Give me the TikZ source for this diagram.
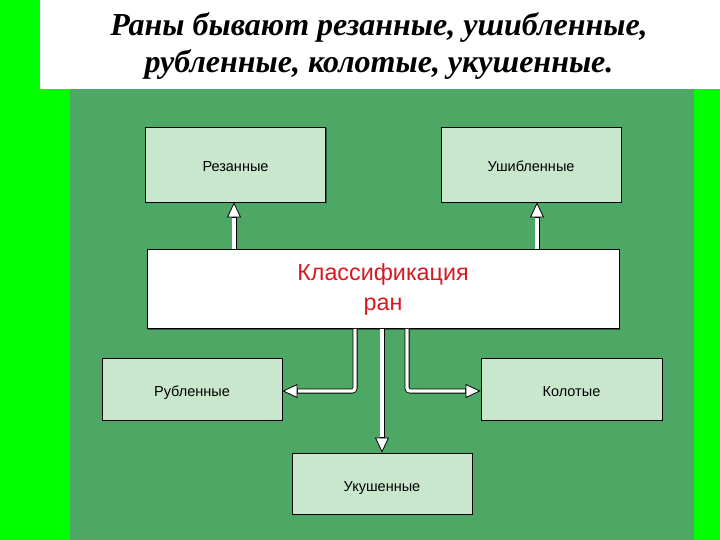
\documentclass[tikz,border=0pt]{standalone}
\usepackage{fontspec}
\setmainfont{Liberation Serif}
\newfontfamily\boxfont{Liberation Sans}
\usetikzlibrary{arrows.meta}
\usetikzlibrary{shadows}
\definecolor{limegreen}{RGB}{0,255,0}
\definecolor{panelgreen}{RGB}{77,167,101}
\definecolor{boxgreen}{RGB}{201,231,204}
\definecolor{classred}{RGB}{214,26,34}
\tikzstyle{woundbox}=[draw=black, line width=0.8pt, fill=boxgreen, inner sep=0,
                      text height=15pt, text depth=0pt,
                      font=\boxfont\fontsize{14.5}{16}\selectfont,
                      drop shadow={shadow xshift=1.2pt, shadow yshift=-1.2pt, fill=black, opacity=0.45}]
\tikzstyle{topbox}=[woundbox, minimum width=180pt, minimum height=75pt]
\tikzstyle{lowbox}=[woundbox, minimum width=180pt, minimum height=62pt]
\tikzstyle{classbox}=[woundbox, fill=white, text=classred, align=center,
                      text height=, text depth=,
                      minimum width=472pt, minimum height=79pt,
                      font=\boxfont\fontsize{23.3}{30}\selectfont]
% Black outer stroke with the tip, white core laid on top of it.
\tikzstyle{wound}=[draw=black, line width=5pt, rounded corners=3pt,
                   -{Triangle[length=15pt, width=14pt, line width=0.8pt, fill=white]},
                   postaction={draw=white, line width=3.4pt, -, shorten >=15.6pt}]
\tikzstyle{woundnet}=[x=1pt, y=-1pt,
                      % Page frame: bright border, white header, dark panel.
                      execute at begin picture={
                        \fill[limegreen] (0,0) rectangle (720,540);
                        \fill[white] (40,0) rectangle (720,89);
                        \fill[panelgreen] (70,89) rectangle (694,540);}]
\begin{document}
\begin{tikzpicture}[woundnet]
        \useasboundingbox (0,0) rectangle (720,540);
        \node[align=center, font=\fontsize{32}{37}\selectfont\bfseries\itshape] (title) at (379, 46)
             {Раны бывают резанные, ушибленные,\\рубленные, колотые, укушенные.};
        \node[topbox]                  (rez)   at (235.5, 164.5) {Резанные};
        \node[topbox]                  (ush)   at (531, 164.5)   {Ушибленные};
        \node[classbox]                (klass) at (383, 289)     {Классификация\\ран};
        \node[lowbox]                  (rub)   at (192, 389)     {Рубленные};
        \node[lowbox, minimum width=181pt] (kol) at (571.5, 389) {Колотые};
        \node[lowbox, minimum height=61pt] (uk) at (382, 483.5)  {Укушенные};
        \draw[wound] (klass.north -| 234,0) -- (rez.south -| 234,0);
        \draw[wound] (klass.north -| 537,0) -- (ush.south -| 537,0);
        \draw[wound] (klass.south -| 355,0) |- ([yshift=-2pt]rub.east);
        \draw[wound] (klass.south -| uk.north) -- (uk.north);
        \draw[wound] (klass.south -| 407,0) |- ([yshift=-2pt]kol.west);
\end{tikzpicture}
\end{document}
